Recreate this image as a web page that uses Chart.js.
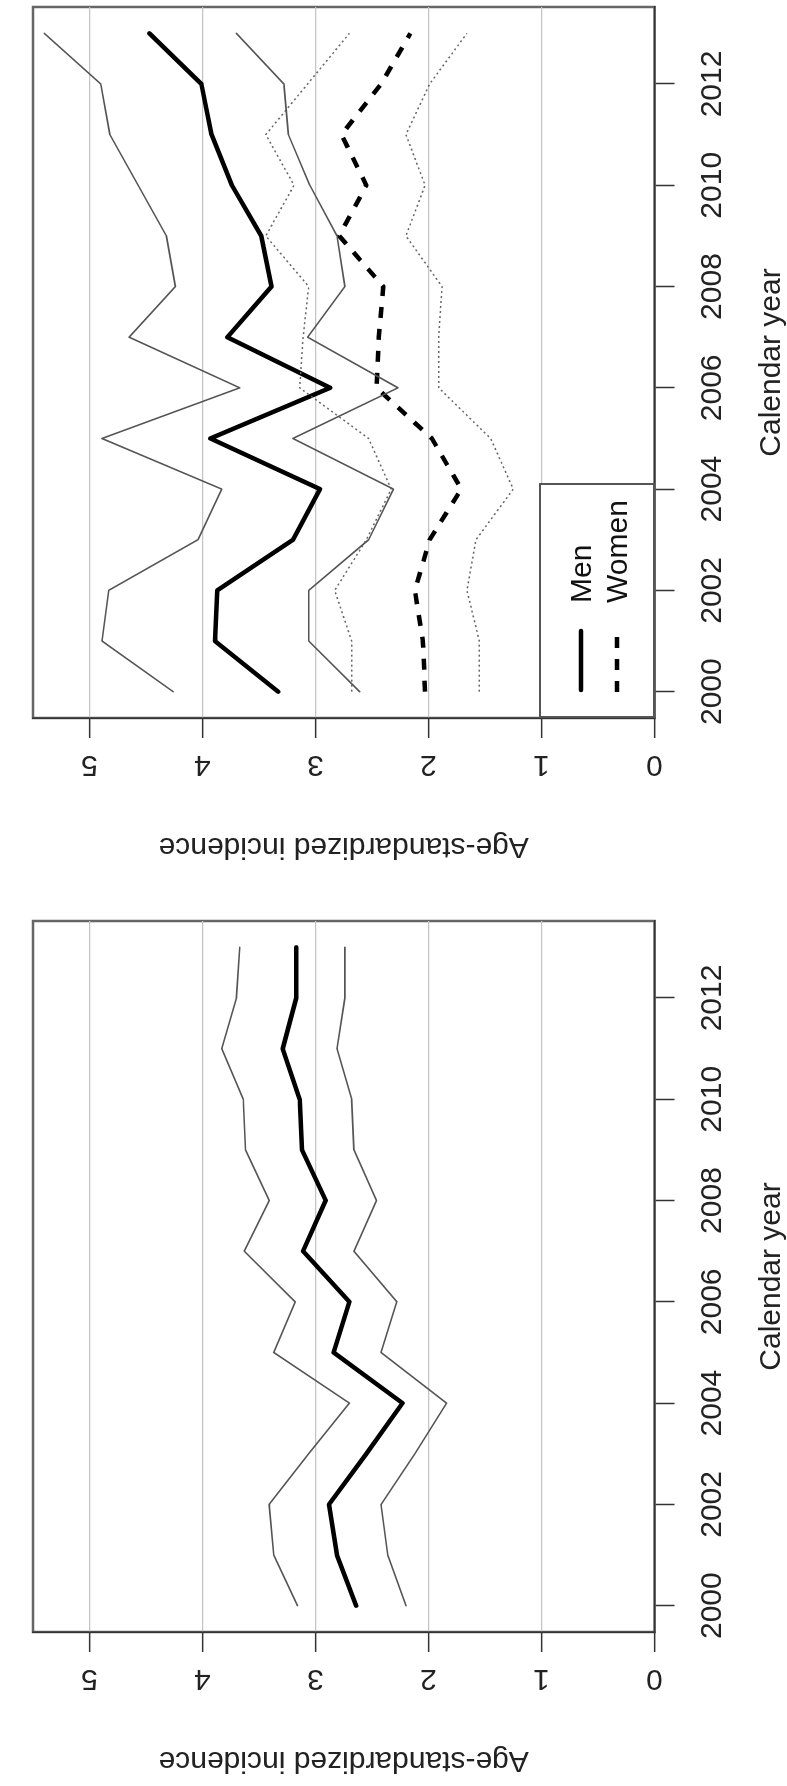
<!DOCTYPE html>
<html>
<head>
<meta charset="utf-8">
<script src="https://cdn.jsdelivr.net/npm/chart.js@4.4.1/dist/chart.umd.min.js"></script>
<style>
html,body{margin:0;padding:0;background:#fff;overflow:hidden;width:787px;height:1786px}
#fig{position:absolute;left:0;top:0;width:1786px;height:787px;transform-origin:0 0;transform:translate(0,1786px) rotate(-90deg);background:#fff}
.panel{position:absolute;top:0;height:787px}
#legend{position:absolute;left:1068px;top:539px;width:235px;height:116px;box-sizing:border-box;border:2px solid #555;background:#fff;font-family:"Liberation Sans",Arial,Helvetica,sans-serif;font-size:30px;line-height:30px;color:#111}
#legend svg{position:absolute;left:0;top:0}
#legend span{position:absolute;left:113px;white-space:nowrap}
</style>
</head>
<body>
<div id="fig">
  <div class="panel" style="left:0;width:893px"><canvas id="cAll" width="893" height="787"></canvas></div>
  <div class="panel" style="left:914px;width:872px"><canvas id="cSex" width="872" height="787"></canvas></div>
  <div id="legend">
    <svg width="231" height="112">
      <line x1="26" y1="40" x2="85" y2="40" stroke="#000" stroke-width="4.5" stroke-linecap="round"/>
      <line x1="24" y1="76" x2="85" y2="76" stroke="#000" stroke-width="4.5" stroke-dasharray="11 11"/>
    </svg>
    <span style="top:25px">Men</span>
    <span style="top:61px">Women</span>
  </div>
</div>
<script>
// ---- data ----
const years = [2000,2001,2002,2003,2004,2005,2006,2007,2008,2009,2010,2011,2012,2013];
const yearTicks = [2000,2002,2004,2006,2008,2010,2012];
const valueTicks = [0,1,2,3,4,5];
const yearMin = 1999.48, yearMax = 2013.52;
const valueMin = 0, valueMax = 5.5;

// left panel: all patients
const allRate  = [2.64,2.81,2.88,2.55,2.23,2.84,2.70,3.11,2.91,3.12,3.14,3.29,3.17,3.17];
const allLower = [2.20,2.36,2.42,2.12,1.84,2.42,2.28,2.66,2.46,2.66,2.68,2.81,2.74,2.74];
const allUpper = [3.16,3.37,3.41,3.06,2.70,3.37,3.18,3.63,3.41,3.62,3.64,3.83,3.70,3.67];

// right panel: men and women
const menRate  = [3.33,3.89,3.87,3.20,2.96,3.93,2.87,3.78,3.39,3.48,3.74,3.92,4.01,4.47];
const menLower = [2.61,3.06,3.06,2.53,2.31,3.20,2.27,3.07,2.74,2.81,3.05,3.24,3.28,3.70];
const menUpper = [4.26,4.89,4.83,4.04,3.83,4.89,3.67,4.65,4.24,4.32,4.57,4.82,4.90,5.40];
const womenRate  = [2.03,2.05,2.12,1.99,1.71,1.97,2.46,2.44,2.40,2.79,2.55,2.77,2.42,2.16];
const womenLower = [1.55,1.55,1.66,1.58,1.25,1.45,1.91,1.91,1.88,2.20,2.03,2.20,1.99,1.66];
const womenUpper = [2.68,2.68,2.83,2.55,2.33,2.53,3.14,3.11,3.06,3.44,3.19,3.44,3.07,2.70];

const xTitle = 'Calendar year';
const yTitle = 'Age-standardized incidence';

// ---- styling ----
const FONT = '"Liberation Sans", Arial, Helvetica, sans-serif';
Chart.defaults.font.family = FONT;
const FS = 30;

const thick     = {borderColor:'#000', borderWidth:4.5};
const thinSolid = {borderColor:'#555', borderWidth:1.6};
const thickDash = {borderColor:'#000', borderWidth:4.5, borderDash:[11,11], borderCapStyle:'butt'};
const thinDot   = {borderColor:'#666', borderWidth:1.5, borderDash:[2,3], borderCapStyle:'butt'};

function pts(vals){ return years.map((y,i)=>({x:y, y:vals[i]})); }
function ds(label, vals, style){
  return Object.assign({label, data:pts(vals), pointRadius:0, tension:0,
    borderCapStyle:'round', borderJoinStyle:'round', fill:false}, style);
}

const boxPlugin = {
  id:'box',
  beforeDraw(chart){
    const a = chart.chartArea, c = chart.ctx;
    c.save(); c.strokeStyle = '#666'; c.lineWidth = 2.5;
    c.strokeRect(a.left, a.top, a.right - a.left, a.bottom - a.top);
    c.restore();
  }
};

function scales(){
  return {
    x: {
      type:'linear', min:yearMin, max:yearMax,
      afterBuildTicks: s => { s.ticks = yearTicks.map(v => ({value:v})); },
      afterFit: s => { s.height = 132.5; },
      grid: {drawOnChartArea:false, drawTicks:true, tickLength:20, tickColor:'#333', tickWidth:1.5},
      border: {display:true, color:'#333', width:1.5},
      ticks: {autoSkip:false, maxRotation:0, minRotation:0, padding:23.5, color:'#222',
              font:{size:FS, lineHeight:1}, callback: v => String(v)},
      title: {display:true, text:xTitle, color:'#222', font:{size:FS, lineHeight:1}, padding:0}
    },
    y: {
      type:'linear', min:valueMin, max:valueMax,
      afterBuildTicks: s => { s.ticks = valueTicks.map(v => ({value:v})); },
      afterFit: s => { s.width = 154; },
      grid: {color:'#c4c4c4', lineWidth:1.3, drawTicks:true, tickLength:20, tickColor:'#333', tickWidth:1.5},
      border: {display:true, color:'#333', width:1.5},
      ticks: {minRotation:90, maxRotation:90, crossAlign:'center', padding:18, color:'#222',
              font:{size:FS, lineHeight:1}, callback: v => String(v)},
      title: {display:true, text:yTitle, color:'#222', font:{size:FS, lineHeight:1}, padding:{top:11, bottom:0}}
    }
  };
}

function makeChart(id, datasets, rightPad){
  return new Chart(document.getElementById(id), {
    type:'line',
    data:{datasets},
    options:{
      responsive:false, animation:false, devicePixelRatio:1,
      layout:{padding:{left:0, top:17, right:rightPad, bottom:0}},
      plugins:{legend:{display:false}, tooltip:{enabled:false}},
      scales:scales()
    },
    plugins:[boxPlugin]
  });
}

makeChart('cAll', [
  ds('Upper', allUpper, thinSolid),
  ds('Lower', allLower, thinSolid),
  ds('All', allRate, thick)
], 28);

makeChart('cSex', [
  ds('Men upper', menUpper, thinSolid),
  ds('Men lower', menLower, thinSolid),
  ds('Women upper', womenUpper, thinDot),
  ds('Women lower', womenLower, thinDot),
  ds('Women', womenRate, thickDash),
  ds('Men', menRate, thick)
], 7);
</script>
</body>
</html>
